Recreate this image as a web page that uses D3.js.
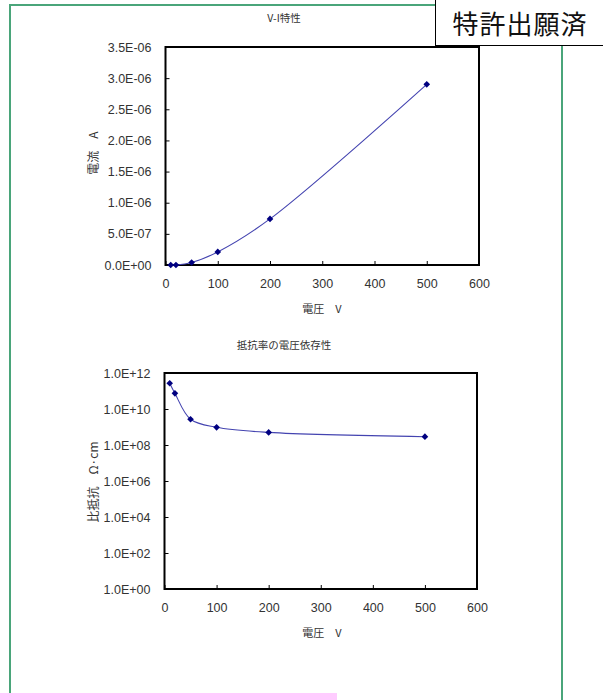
<!DOCTYPE html>
<html><head><meta charset="utf-8">
<script src="https://cdn.jsdelivr.net/npm/d3@7"></script>
<style>
html,body{margin:0;padding:0;background:#fff;}
svg{display:block;}
</style></head>
<body>
<svg id="c" width="603" height="700"></svg>
<script>
// ---- data ----
const voltage = [10, 20, 50, 100, 200, 500];
const current = [6e-11, 4.5e-10, 4.0e-8, 2.1e-7, 7.4e-7, 2.9e-6];
const resistivity = [2.7e11, 7.4e10, 2.7e9, 9.6e8, 5.0e8, 2.9e8];
const xTicks = [0, 100, 200, 300, 400, 500, 600];
const iTicks = [0, 5e-7, 1e-6, 1.5e-6, 2e-6, 2.5e-6, 3e-6, 3.5e-6];
const iTickLabels = ["0.0E+00","5.0E-07","1.0E-06","1.5E-06","2.0E-06","2.5E-06","3.0E-06","3.5E-06"];
const rTicks = [1, 1e2, 1e4, 1e6, 1e8, 1e10, 1e12];
const rTickLabels = ["1.0E+00","1.0E+02","1.0E+04","1.0E+06","1.0E+08","1.0E+10","1.0E+12"];
const titles = ["V-I特性", "抵抗率の電圧依存性"];
const xLabel = "電圧　V";
const yLabels = ["電流　A", "比抵抗　Ω·cm"];
const stamp = "特許出願済";

const svg = d3.select("#c");
const tickFont = "'Liberation Sans', Arial, sans-serif";
const jpFont = "'Noto Sans CJK JP', sans-serif";

// green page frame
svg.append("rect").attr("x",10).attr("y",5).attr("width",552).attr("height",720)
  .attr("fill","none").attr("stroke","#4aa57a").attr("stroke-width",2);

function drawChart(cfg){
  const g = svg.append("g");
  const x = d3.scaleLinear().domain([0,600]).range([cfg.left, cfg.right]);
  const y = cfg.log
    ? d3.scaleLog().domain([1,1e12]).range([cfg.bottom, cfg.top])
    : d3.scaleLinear().domain([0,3.5e-6]).range([cfg.bottom, cfg.top]);

  // title
  g.append("text").attr("x",284).attr("y",cfg.titleY).attr("text-anchor","middle")
    .attr("font-family",jpFont).attr("font-size",10.5).attr("fill","#333").text(cfg.title);

  // x axis
  const xa = g.append("g").attr("transform",`translate(0,${cfg.bottom})`)
    .call(d3.axisBottom(x).tickValues(xTicks).tickFormat(d3.format("d")).tickSize(-4).tickPadding(14));
  xa.select(".domain").remove();
  xa.selectAll("text").attr("font-family",tickFont).attr("font-size",12.5).attr("fill","#333");
  xa.selectAll("line").attr("stroke","#000");

  // y axis
  const ya = g.append("g").attr("transform",`translate(${cfg.left},0)`)
    .call(d3.axisLeft(y).tickValues(cfg.yTicks).tickFormat((d,i)=>cfg.yTickLabels[i]).tickSize(-4).tickPadding(14));
  ya.select(".domain").remove();
  ya.selectAll("text").attr("font-family",tickFont).attr("font-size",12.5).attr("fill","#333");
  ya.selectAll("line").attr("stroke","#000");

  // frame
  g.append("rect").attr("x",cfg.left).attr("y",cfg.top)
    .attr("width",cfg.right-cfg.left).attr("height",cfg.bottom-cfg.top)
    .attr("fill","none").attr("stroke","#000").attr("stroke-width",2);

  // axis labels
  g.append("text").attr("x",322).attr("y",cfg.xLabelY).attr("text-anchor","middle")
    .attr("dominant-baseline","central")
    .attr("font-family",jpFont).attr("font-size",11).attr("fill","#333").text(xLabel);
  g.append("text").attr("transform",`translate(92,${cfg.yLabelY}) rotate(-90)`)
    .attr("text-anchor","middle").attr("dominant-baseline","central")
    .attr("font-family",jpFont).attr("font-size",12).attr("fill","#333").text(cfg.yLabel);

  // data
  const pts = voltage.map((v,i)=>[v, cfg.values[i]]);
  const line = d3.line().x(d=>x(d[0])).y(d=>y(d[1])).curve(d3.curveCatmullRom.alpha(0.5));
  g.append("path").attr("d",line(pts)).attr("fill","none")
    .attr("stroke","#4444b0").attr("stroke-width",1.1);
  g.selectAll("path.m").data(pts).enter().append("path").attr("class","m")
    .attr("d",d3.symbol().type(d3.symbolSquare).size(22))
    .attr("transform",d=>`translate(${x(d[0])},${y(d[1])}) rotate(45)`)
    .attr("fill","#000080");
}

drawChart({left:165.5, right:479, top:47, bottom:265, log:false,
  yTicks:iTicks, yTickLabels:iTickLabels, values:current,
  title:titles[0], titleY:22, xLabelY:308, yLabel:yLabels[0], yLabelY:153});

drawChart({left:164.5, right:477, top:373, bottom:589, log:true,
  yTicks:rTicks, yTickLabels:rTickLabels, values:resistivity,
  title:titles[1], titleY:349, xLabelY:632, yLabel:yLabels[1], yLabelY:482});

// stamp box
svg.append("rect").attr("x",435.5).attr("y",-2).attr("width",170).attr("height",47.5)
  .attr("fill","#fff").attr("stroke","#000").attr("stroke-width",1);
svg.append("text").attr("x",520).attr("y",22).attr("text-anchor","middle")
  .attr("dominant-baseline","central").attr("font-family",jpFont)
  .attr("font-size",26).attr("font-weight",400).attr("letter-spacing",1).attr("fill","#111").text(stamp);

// pink strip
svg.append("rect").attr("x",0).attr("y",693).attr("width",337).attr("height",7).attr("fill","#ffccff");
</script>
</body></html>
